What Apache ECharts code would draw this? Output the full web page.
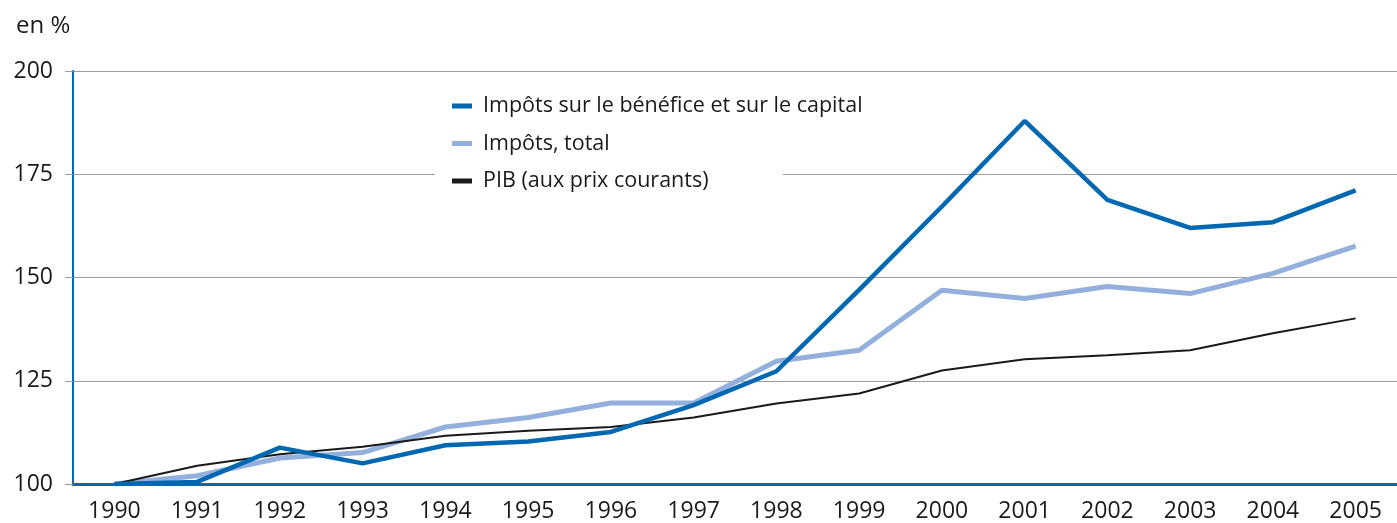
<!DOCTYPE html>
<html>
<head>
<meta charset="utf-8">
<script src="https://cdn.jsdelivr.net/npm/echarts@6/dist/echarts.min.js"></script>
<style>
html,body{margin:0;padding:0;background:#fff;}
#chart{width:1397px;height:523px;}
</style>
</head>
<body>
<div id="chart"></div>
<script>
const years = ['1990','1991','1992','1993','1994','1995','1996','1997','1998','1999','2000','2001','2002','2003','2004','2005'];
const impotsBenefice = [100, 100.5, 108.8, 105.0, 109.4, 110.3, 112.6, 119.1, 127.3, 147.0, 167.2, 187.9, 168.8, 162.0, 163.4, 171.1];
const impotsTotal = [100, 102.0, 106.3, 107.6, 113.8, 116.1, 119.6, 119.6, 129.7, 132.4, 146.9, 144.9, 147.8, 146.1, 151.0, 157.6];
const pib = [100, 104.4, 107.2, 109.0, 111.7, 112.9, 113.8, 116.1, 119.5, 121.9, 127.5, 130.2, 131.2, 132.4, 136.5, 140.1];
const yTicks = {min: 100, max: 200, interval: 25};
const names = ['Impôts sur le bénéfice et sur le capital', 'Impôts, total', 'PIB (aux prix courants)'];

const FONT = '"Open Sans", "Noto Sans", sans-serif';
const DARK = '#0067b1';
const LIGHT = '#93afdc';
const BLACK = '#1a1a1a';

const chart = echarts.init(document.getElementById('chart'), null, {renderer: 'canvas'});
chart.setOption({
  animation: false,
  backgroundColor: '#fff',
  textStyle: {fontFamily: FONT},
  title: {
    text: 'en %', left: 11, top: 9,
    textStyle: {fontFamily: FONT, fontSize: 24, fontWeight: 'normal', color: '#1a1a1a'}
  },
  grid: {left: 73, right: -4.5, top: 71, bottom: 38, containLabel: false},
  legend: {
    orient: 'vertical', left: 447, top: 90,
    itemGap: 15.5, itemWidth: 20, itemHeight: 5,
    icon: 'rect',
    data: names,
    textStyle: {fontFamily: FONT, fontSize: 21.5, color: '#1a1a1a', padding: [0,0,0,6]},
    z: 10
  },
  graphic: [{
    type: 'rect', z: 5,
    shape: {x: 435, y: 165, width: 348, height: 22},
    style: {fill: '#fff'}
  }],
  xAxis: {
    type: 'category', data: years, boundaryGap: true,
    axisLine: {lineStyle: {color: DARK, width: 3}},
    axisTick: {inside: true, length: 9, lineStyle: {color: DARK, width: 2}},
    axisLabel: {fontFamily: FONT, fontSize: 23, color: '#1a1a1a', margin: 16},
    splitLine: {show: false}
  },
  yAxis: {
    type: 'value', min: yTicks.min, max: yTicks.max, interval: yTicks.interval,
    axisLine: {show: true, lineStyle: {color: DARK, width: 2}},
    axisTick: {show: true, length: 8, lineStyle: {color: '#9d9d9d', width: 1}},
    axisLabel: {fontFamily: FONT, fontSize: 23, color: '#1a1a1a', margin: 20},
    splitLine: {lineStyle: {color: '#9d9d9d', width: 1}}
  },
  series: [
    {name: names[1], type: 'line', data: impotsTotal, symbol: 'none', z: 2,
     lineStyle: {color: LIGHT, width: 5}, itemStyle: {color: LIGHT}},
    {name: names[2], type: 'line', data: pib, symbol: 'none', z: 3,
     lineStyle: {color: BLACK, width: 2}, itemStyle: {color: BLACK}},
    {name: names[0], type: 'line', data: impotsBenefice, symbol: 'none', z: 4,
     lineStyle: {color: DARK, width: 4.5}, itemStyle: {color: DARK}}
  ]
});
</script>
</body>
</html>
